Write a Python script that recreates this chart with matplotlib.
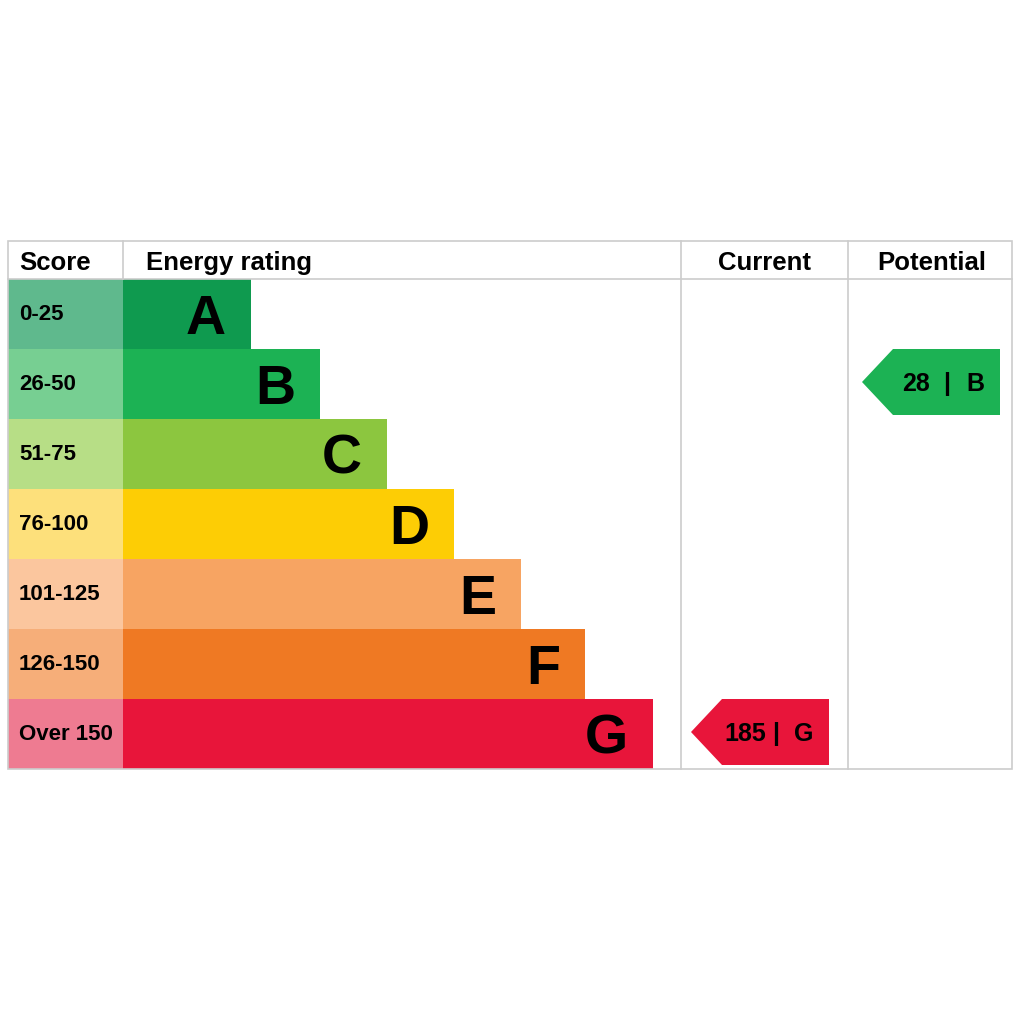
import matplotlib.pyplot as plt
from matplotlib.patches import Rectangle, Polygon

plt.rcParams['font.family'] = ['Liberation Sans', 'DejaVu Sans']

bands = ['A', 'B', 'C', 'D', 'E', 'F', 'G']
scores = ['0-25', '26-50', '51-75', '76-100', '101-125', '126-150', 'Over 150']
bar_len = [128, 197, 264, 331, 398, 462, 530]
bar_colors = ['#0f9a4f', '#1cb254', '#8cc63f', '#fdcd05', '#f7a462', '#ef7923', '#e8153a']
score_colors = ['#5fb98d', '#77cf92', '#b7de86', '#fde07b', '#fbc69e', '#f6ae79', '#ee7b91']
current = (185, 'G')
potential = (28, 'B')

fig = plt.figure(figsize=(10.24, 10.24), dpi=100)
ax = fig.add_axes([0, 0, 1, 1])
ax.set_xlim(0, 1024)
ax.set_ylim(1024, 0)
ax.axis('off')

left, score_w = 8, 115
x_cur, x_pot, right = 681, 848, 1012
top, head_h, row_h = 241, 38, 70
grid = '#cccccc'

rows_top = top + head_h
bottom = rows_top + row_h * len(bands)

for i, b in enumerate(bands):
    y = rows_top + i * row_h
    ax.add_patch(Rectangle((left, y), score_w, row_h, color=score_colors[i], lw=0))
    ax.add_patch(Rectangle((left + score_w, y), bar_len[i], row_h, color=bar_colors[i], lw=0))
    ax.text(left + 11, y + row_h / 2 + 1, scores[i], fontsize=16, fontweight='bold',
            va='center', ha='left')
    ax.text(left + score_w + bar_len[i] - 25, y + row_h / 2 + 6, b, fontsize=40,
            fontweight='bold', va='center', ha='right')

# grid
ax.add_patch(Rectangle((left, top), right - left, bottom - top, fill=False, ec=grid, lw=1.2))
ax.plot([left, right], [rows_top, rows_top], color=grid, lw=1.2)
ax.plot([left + score_w] * 2, [top, rows_top], color=grid, lw=1.2)
for xv in (x_cur, x_pot):
    ax.plot([xv, xv], [top, bottom], color=grid, lw=1.2)

hy = top + head_h / 2 + 3
ax.text(left + 11, hy, 'Score', fontsize=18.5, fontweight='bold', va='center')
ax.text(left + score_w + 23, hy, 'Energy rating', fontsize=18.5, fontweight='bold', va='center')
ax.text((x_cur + x_pot) / 2, hy, 'Current', fontsize=18.5, fontweight='bold', va='center', ha='center')
ax.text((x_pot + right) / 2 + 2, hy, 'Potential', fontsize=18.5, fontweight='bold', va='center', ha='center')


def arrow(x0, value, band):
    i = bands.index(band)
    yc = rows_top + i * row_h + row_h / 2 - 2
    h, tip, w = 33, 31, 138
    pts = [(x0, yc), (x0 + tip, yc - h), (x0 + w, yc - h), (x0 + w, yc + h), (x0 + tip, yc + h)]
    ax.add_patch(Polygon(pts, closed=True, color=bar_colors[i], lw=0))
    ty = yc + 2
    ax.text(x0 + 54, ty, str(value), fontsize=18, fontweight='bold', va='center', ha='center')
    ax.text(x0 + 85, ty, '|', fontsize=18, fontweight='bold', va='center', ha='center')
    ax.text(x0 + 113, ty, band, fontsize=18, fontweight='bold', va='center', ha='center')


arrow(691, *current)
arrow(862, *potential)

fig.savefig('out.png', dpi=100, facecolor='white')
